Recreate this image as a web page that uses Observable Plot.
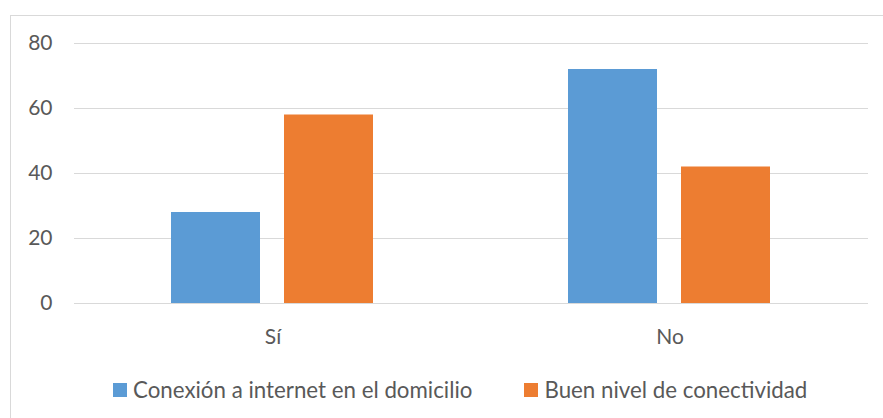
<!DOCTYPE html>
<html>
<head>
<meta charset="utf-8">
<script src="https://cdn.jsdelivr.net/npm/d3@7"></script>
<script src="https://cdn.jsdelivr.net/npm/@observablehq/plot@0.6"></script>
<style>
  html, body { margin: 0; padding: 0; background: #fff; }
  #wrap { position: relative; width: 883px; height: 418px; overflow: hidden; font-family: Lato, sans-serif; }
  #border { position: absolute; left: 10px; top: 15px; width: 900px; height: 420px; border: 1.5px solid #d9d9d9; box-sizing: border-box; }
  #chart { position: absolute; left: 0; top: 0; }
  #legend { position: absolute; left: 113px; top: 373px; }
  #legend .leg-swatch { margin-right: 52px; font-size: 22.3px; color: #595959; font-family: Lato, sans-serif; }
  #legend .leg-swatch svg { margin-right: 6px; }
</style>
</head>
<body>
<div id="wrap">
  <div id="border"></div>
  <div id="chart"></div>
  <div id="legend"></div>
</div>
<script>
const categories = ["Sí", "No"];
const series = ["Conexión a internet en el domicilio", "Buen nivel de conectividad"];
const conexion = [28, 72];
const buenNivel = [58, 42];
const yTicks = [0, 20, 40, 60, 80];
const seriesColors = ["#5B9BD5", "#ED7D31"];

const data = [];
categories.forEach((c, i) => {
  data.push({cat: c, series: series[0], value: conexion[i]});
  data.push({cat: c, series: series[1], value: buenNivel[i]});
});

const plot = Plot.plot({
  width: 883,
  height: 418,
  marginLeft: 74,
  marginRight: 15,
  marginTop: 43,
  marginBottom: 115,
  style: {fontFamily: "Lato, sans-serif", fontSize: "21px", color: "#595959", background: "transparent"},
  y: {domain: [0, 80], ticks: yTicks, tickSize: 0, tickPadding: 22, label: null},
  fx: {domain: categories, padding: 0, axis: "bottom", tickSize: 0, tickPadding: 26, label: null},
  x: {domain: series, paddingInner: 0.212, paddingOuter: 0.861, axis: null},
  color: {domain: series, range: seriesColors},
  marks: [
    Plot.ruleY(yTicks, {stroke: "#d9d9d9", strokeWidth: 1.2}),
    Plot.barY(data, {fx: "cat", x: "series", y: "value", fill: "series"})
  ]
});
document.getElementById("chart").appendChild(plot);

const leg = plot.legend("color", {legend: "swatches", swatchSize: 14, className: "leg"});
document.getElementById("legend").appendChild(leg);
</script>
</body>
</html>
